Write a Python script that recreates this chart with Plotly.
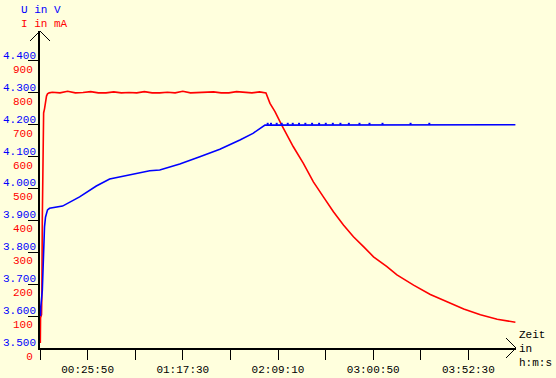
import plotly.graph_objects as go

# ---- data (seconds since start) ----
u_time = [16, 26, 75, 88, 108, 121, 147, 179, 212, 245, 310, 734, 1289, 1834, 2268,
          2921, 3247, 3573, 3899, 4552, 5204, 5857, 6510, 6934, 7326, 15480]
u_volt = [3.600, 3.630, 3.680, 3.730, 3.780, 3.840, 3.880, 3.910, 3.925, 3.933, 3.938,
          3.945, 3.974, 4.008, 4.030, 4.042, 4.050, 4.056, 4.058, 4.077, 4.100, 4.123,
          4.152, 4.173, 4.199, 4.200]

u_spike_time = [7414, 7521, 7707, 7871, 8067, 8230, 8435, 8641, 8860, 9089, 9306, 9535,
                9783, 10057, 10403, 10729, 11153, 12067, 12677]
u_spike_volt = [4.203] * len(u_spike_time)

i_time = [10, 18, 50, 60, 75, 90, 105, 118, 147, 179, 212, 245, 300,
          400, 650, 900, 1150, 1400, 1650, 1900, 2150, 2400, 2650, 2900, 3150, 3400,
          3650, 3900, 4150, 4400, 4650, 4900, 5150, 5400, 5650, 5900, 6150, 6400,
          6650, 6900, 7150,
          7358, 7489, 7652, 7871, 8249, 8576, 8902, 9228, 9555, 9881, 10207, 10534,
          10860, 11297, 11623, 12165, 12710, 13255, 13797, 14341, 14887, 15480]
i_ma = [16, 95, 105, 160, 400, 505, 600, 737, 750, 777, 790, 797, 800,
        802, 800, 805, 800, 801, 804, 800, 800, 803, 800, 801, 800, 804,
        800, 800, 802, 800, 805, 800, 801, 800, 803, 800, 800, 804,
        801, 800, 803,
        800, 767, 741, 699, 631, 579, 521, 474, 427, 386, 349, 318,
        286, 255, 229, 197, 168, 145, 122, 104, 90, 81]

x_tick_vals = [0, 1550, 3100, 4650, 6200, 7750, 9300, 10850, 12400, 13950]
x_tick_text = ["", "00:25:50", "", "01:17:30", "", "02:09:10", "", "03:00:50", "", "03:52:30"]

i_tick_vals = [0, 100, 200, 300, 400, 500, 600, 700, 800, 900]
i_tick_text = ["0", "100", "200", "300", "400", "500", "600", "700", "800", "900"]
u_tick_vals = [3.5, 3.6, 3.7, 3.8, 3.9, 4.0, 4.1, 4.2, 4.3, 4.4]
u_tick_text = ["3.500", "3.600", "3.700", "3.800", "3.900", "4.000", "4.100", "4.200", "4.300", "4.400"]

BG = "#FFFFDD"
FONT = "Liberation Mono"
BLUE = "#0000FF"
RED = "#FF0000"

fig = go.Figure()
fig.add_trace(go.Scatter(x=u_time, y=u_volt, yaxis="y2", mode="lines",
                         line=dict(color=BLUE, width=1.6), showlegend=False))
fig.add_trace(go.Scatter(x=u_spike_time, y=u_spike_volt, yaxis="y2", mode="markers",
                         marker=dict(symbol="square", size=2, color=BLUE, line_width=0),
                         showlegend=False))
fig.add_trace(go.Scatter(x=i_time, y=i_ma, mode="lines",
                         line=dict(color=RED, width=1.6), showlegend=False))

fig.update_layout(
    width=556, height=378,
    margin=dict(l=40, r=40, t=31, b=30, pad=0, autoexpand=False),
    paper_bgcolor=BG, plot_bgcolor=BG,
    font=dict(family=FONT, size=11, color="black"),
    xaxis=dict(range=[0, 15500], showline=True, linecolor="black", linewidth=2,
               tickmode="array", tickvals=x_tick_vals, ticktext=x_tick_text,
               ticks="outside", ticklen=10, tickwidth=1, tickcolor="black",
               showgrid=False, zeroline=False, automargin=False,
               tickfont=dict(family=FONT, size=11, color="black")),
    yaxis=dict(range=[0, 994], showline=True, linecolor="black", linewidth=2,
               tickmode="array", tickvals=i_tick_vals, ticktext=i_tick_text,
               ticks="", showgrid=False, zeroline=False, automargin=False,
               minor=dict(tickvals=i_tick_vals[1:], ticks="outside", ticklen=10,
                          tickwidth=1, tickcolor="black", showgrid=False),
               tickfont=dict(family=FONT, size=11, color=RED),
               ticklabelshift=8, ticklabelstandoff=3),
    yaxis2=dict(range=[3.5, 4.494], overlaying="y", side="left", showline=False,
                tickmode="array", tickvals=u_tick_vals, ticktext=u_tick_text,
                ticks="", showgrid=False, zeroline=False, automargin=False,
                tickfont=dict(family=FONT, size=11, color=BLUE),
                ticklabelshift=-6, ticklabelstandoff=3),
)

arrow = dict(type="line", line=dict(color="black", width=1),
             xref="paper", yref="paper", xsizemode="pixel", ysizemode="pixel")
fig.add_shape(**arrow, xanchor=0, yanchor=1, x0=-10, y0=-10, x1=0, y1=0)
fig.add_shape(**arrow, xanchor=0, yanchor=1, x0=10, y0=-10, x1=0, y1=0)
fig.add_shape(**arrow, xanchor=1, yanchor=0, x0=-10, y0=10, x1=0, y1=0)
fig.add_shape(**arrow, xanchor=1, yanchor=0, x0=-10, y0=-10, x1=0, y1=0)

ann = dict(xref="paper", yref="paper", showarrow=False, xanchor="left", yanchor="middle",
           font=dict(family=FONT, size=11))
fig.add_annotation(**ann, x=0, y=1, xshift=-21, yshift=21, text="U in V",
                   font_color=BLUE)
fig.add_annotation(**ann, x=0, y=1, xshift=-21, yshift=7, text="I in mA",
                   font_color=RED)
fig.add_annotation(**ann, x=1, y=0, xshift=1, yshift=13, text="Zeit")
fig.add_annotation(**ann, x=1, y=0, xshift=1, yshift=-1, text="in")
fig.add_annotation(**ann, x=1, y=0, xshift=1, yshift=-15, text="h:m:s")

fig.write_html("out.html",
               config={"displayModeBar": False},
               post_script="document.body.style.margin='0';document.body.style.background='%s';" % BG)
